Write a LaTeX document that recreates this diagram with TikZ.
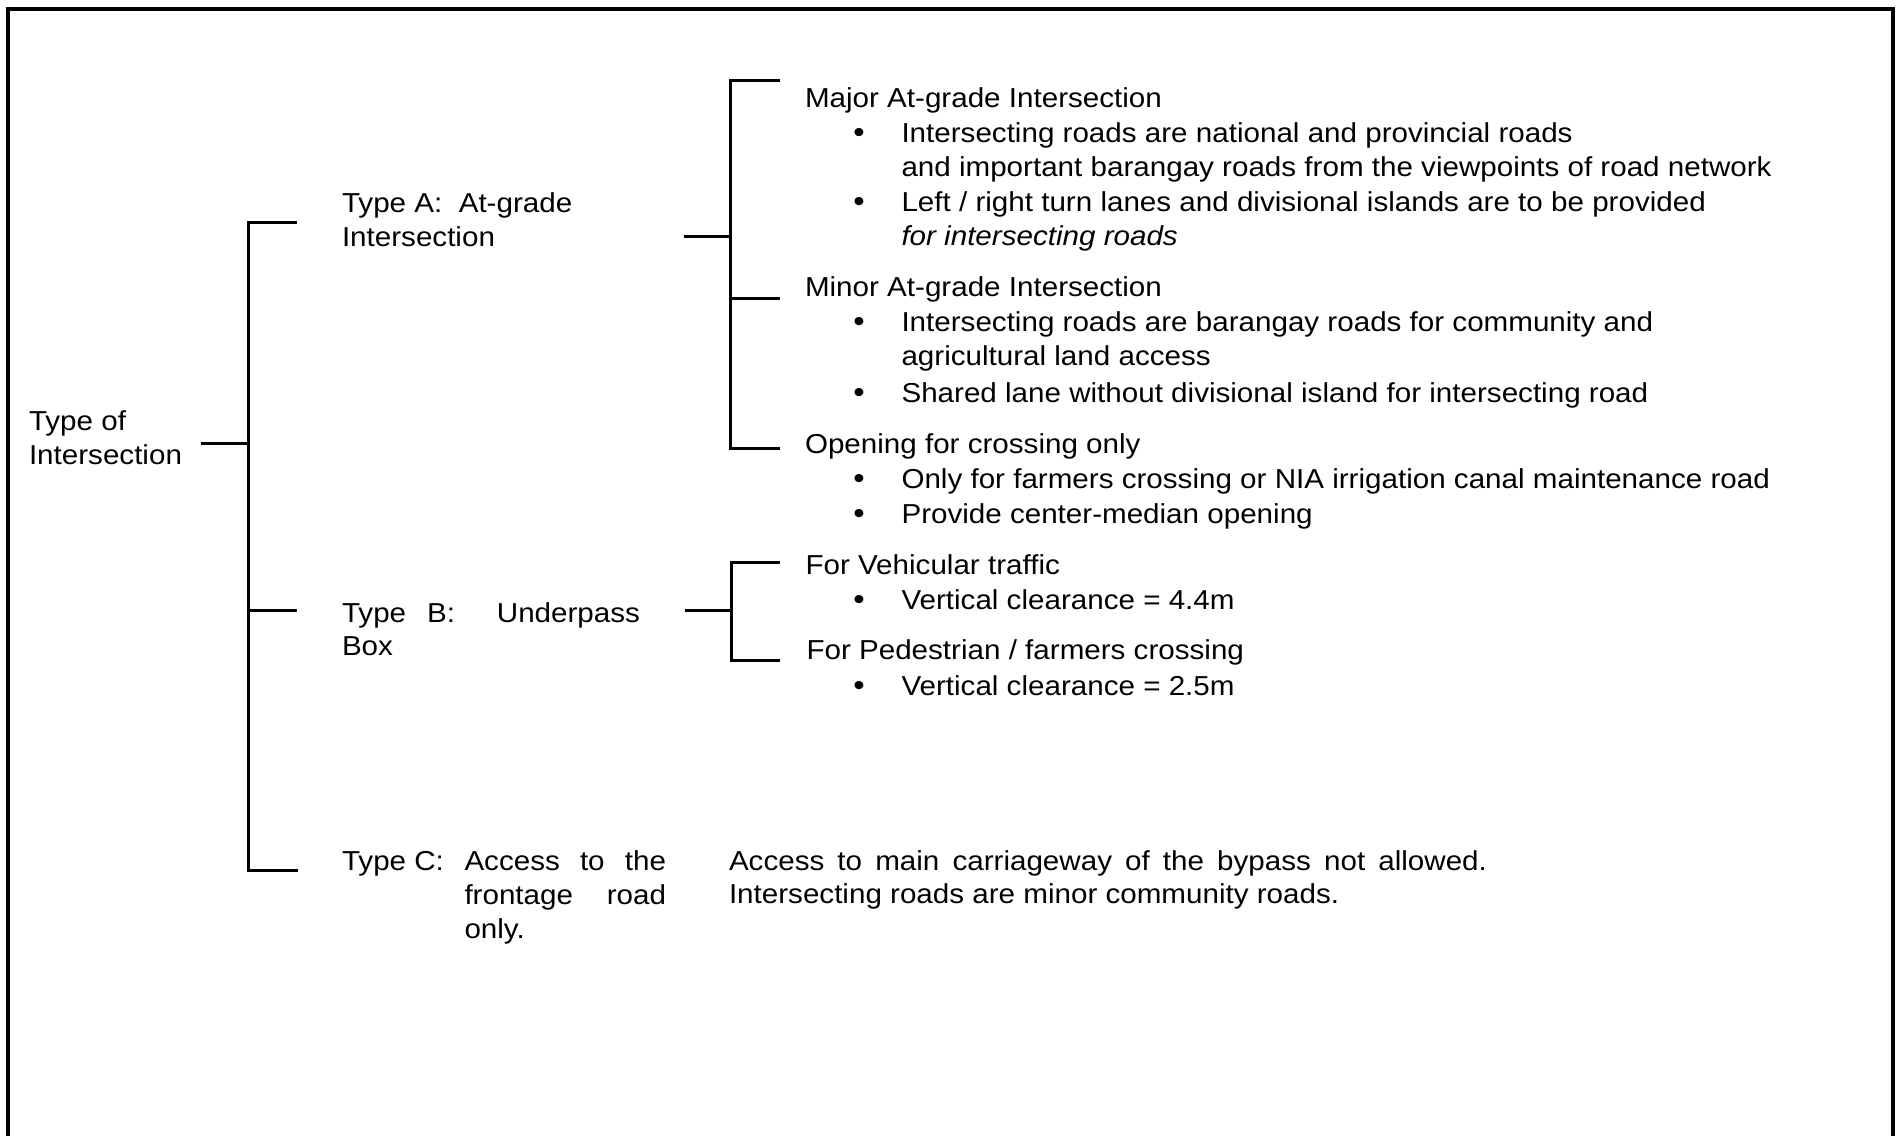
\documentclass[tikz,border=0pt]{standalone}
\usepackage{fontspec}
\setmainfont{Liberation Sans}[FakeStretch=1.08]
\begin{document}
\begin{tikzpicture}[x=1pt,y=-1pt,
  txt/.style={anchor=base west, inner sep=0pt, outer sep=0pt, font=\fontsize{27.4}{34.5}\selectfont},
  bul/.style={anchor=base, inner sep=0pt, outer sep=0pt, font=\fontsize{30}{34.5}\selectfont},
  ln/.style={line width=3pt},
  frm/.style={line width=3.5pt}]
\useasboundingbox (0,0) rectangle (1902,1136);
% frame (open at the bottom)
\coordinate (fBL) at (8,1136);
\coordinate (fTL) at (8,9);
\coordinate (fTR) at (1893,9);
\coordinate (fBR) at (1893,1136);
\draw[frm] (fBL) -- (fTL) -- (fTR) -- (fBR);

% root
\node[txt] (root1) at (29,430) {Type of};
\node[txt] (root2) at (29,464) {Intersection};

% trunk coordinates
\coordinate (rootS) at (201,443);
\coordinate (trunkR) at (248,443);
\coordinate (tA) at (248,222);
\coordinate (tAe) at (297,222);
\coordinate (tB) at (248,610);
\coordinate (tBe) at (297,610);
\coordinate (tC) at (248,870);
\coordinate (tCe) at (298,870);
\draw[ln] (rootS) -- (trunkR);
\draw[ln] (tAe) -- (tA) -- (tC) -- (tCe);
\draw[ln] (tB) -- (tBe);

% Type A
\node[txt] (typeA1) at (342,212) {Type A:\ \ At-grade};
\node[txt] (typeA2) at (342,246) {Intersection};
\coordinate (aS) at (684,236);
\coordinate (aM) at (730,236);
\coordinate (a1) at (730,80);
\coordinate (a1e) at (780,80);
\coordinate (a2) at (730,298);
\coordinate (a2e) at (780,298);
\coordinate (a3) at (730,448);
\coordinate (a3e) at (780,448);
\draw[ln] (aS) -- (aM);
\draw[ln] (a1e) -- (a1) -- (a3) -- (a3e);
\draw[ln] (a2) -- (a2e);

\node[txt] (major) at (805,107.5) {Major At-grade Intersection};
\node[bul] (bu1) at (859,142.7) {•};
\node[txt] (m1a) at (901.5,142.7) {Intersecting roads are national and provincial roads};
\node[txt] (m1b) at (901.5,176.7) {and important barangay roads from the viewpoints of road network};
\node[bul] (bu2) at (859,211.7) {•};
\node[txt] (m2a) at (901.5,211.7) {Left / right turn lanes and divisional islands are to be provided};
\node[txt] (m2b) at (901.5,245.7) {\itshape for intersecting roads};

\node[txt] (minor) at (805,296) {Minor At-grade Intersection};
\node[bul] (bu3) at (859,331.7) {•};
\node[txt] (n1a) at (901.5,331.7) {Intersecting roads are barangay roads for community and};
\node[txt] (n1b) at (901.5,365.7) {agricultural land access};
\node[bul] (bu4) at (859,402.3) {•};
\node[txt] (n2a) at (901.5,402.3) {Shared lane without divisional island for intersecting road};

\node[txt] (opening) at (805,453.5) {Opening for crossing only};
\node[bul] (bu5) at (859,488.3) {•};
\node[txt] (o1) at (901.5,488.3) {Only for farmers crossing or NIA irrigation canal maintenance road};
\node[bul] (bu6) at (859,523.3) {•};
\node[txt] (o2) at (901.5,523.3) {Provide center-median opening};

% Type B
\node[txt] (typeB1) at (342,622) {\makebox[298pt][s]{Type B:\ \ Underpass}};
\node[txt] (typeB2) at (342,655) {Box};
\coordinate (bS) at (685,610);
\coordinate (bM) at (731,610);
\coordinate (b1) at (731,562);
\coordinate (b1e) at (780,562);
\coordinate (b2) at (731,660);
\coordinate (b2e) at (780,660);
\draw[ln] (bS) -- (bM);
\draw[ln] (b1e) -- (b1) -- (b2) -- (b2e);

\node[txt] (veh) at (805.5,574) {For Vehicular traffic};
\node[bul] (bu7) at (859,609) {•};
\node[txt] (veh1) at (901.5,609) {Vertical clearance = 4.4m};
\node[txt] (ped) at (806.5,659) {For Pedestrian / farmers crossing};
\node[bul] (bu8) at (859,695) {•};
\node[txt] (ped1) at (901.5,695) {Vertical clearance = 2.5m};

% Type C
\node[txt] (typeC0) at (342,870) {Type C:};
\node[txt] (typeC1) at (464.5,870) {\makebox[201.5pt][s]{Access to the}};
\node[txt] (typeC2) at (464.5,904) {\makebox[201.5pt][s]{frontage road}};
\node[txt] (typeC3) at (464.5,938) {only.};
\node[txt] (acc1) at (729,870) {\makebox[758pt][s]{Access to main carriageway of the bypass not allowed.}};
\node[txt] (acc2) at (729,903) {Intersecting roads are minor community roads.};
\end{tikzpicture}
\end{document}
